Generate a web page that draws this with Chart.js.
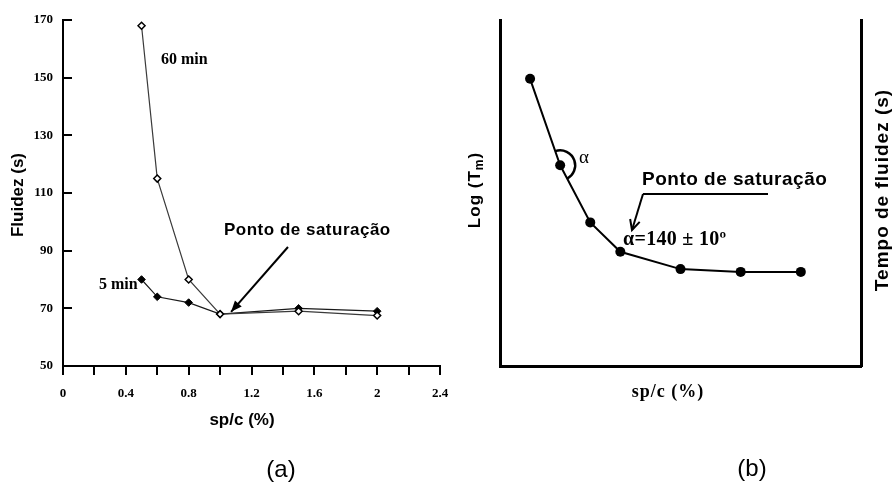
<!DOCTYPE html>
<html>
<head>
<meta charset="utf-8">
<script src="https://cdn.jsdelivr.net/npm/chart.js@4/dist/chart.umd.min.js"></script>
<style>
  html, body { margin: 0; padding: 0; background: #ffffff; }
  #wrap { position: relative; width: 895px; height: 482px; overflow: hidden; background: #ffffff; }
  #chartA { position: absolute; left: 0; top: 0; }
  #chartB { position: absolute; left: 460px; top: 0; }
</style>
</head>
<body>
<div id="wrap">
  <canvas id="chartA" width="460" height="482"></canvas>
  <canvas id="chartB" width="435" height="482"></canvas>
</div>
<script>
// ---- (a) measured flow time versus superplasticizer dosage ----
const spc = [0.5, 0.6, 0.8, 1.0, 1.5, 2.0];
const fluidez5min = [80, 74, 72, 68, 70, 69];
const fluidez60min = [168, 115, 80, 68, 69, 67.5];
const seriesNames = ['5 min', '60 min'];

// ---- (b) schematic log(T) curve used to define the saturation point ----
const spcSchematic = [1, 2, 3, 4, 6, 8, 10];
const logTm = [8.3, 5.8, 4.15, 3.3, 2.8, 2.72, 2.72];

const SERIF = '"Liberation Serif", "Times New Roman", serif';
const SANS = '"Liberation Sans", Arial, sans-serif';

Chart.defaults.font.family = SERIF;
Chart.defaults.color = '#000';

function toXY(xs, ys) { return xs.map((x, i) => ({ x: x, y: ys[i] })); }

function text(ctx, str, x, y, font, align, spacing) {
  ctx.save();
  ctx.font = font;
  ctx.fillStyle = '#000';
  ctx.textAlign = align || 'left';
  ctx.textBaseline = 'middle';
  if (spacing) ctx.letterSpacing = spacing;
  ctx.fillText(str, x, y);
  ctx.restore();
}

function vtext(ctx, str, x, y, font, spacing) {
  ctx.save();
  ctx.translate(x, y);
  ctx.rotate(-Math.PI / 2);
  ctx.font = font;
  ctx.fillStyle = '#000';
  ctx.textAlign = 'center';
  ctx.textBaseline = 'middle';
  if (spacing) ctx.letterSpacing = spacing;
  ctx.fillText(str, 0, 0);
  ctx.restore();
}

function line(ctx, x1, y1, x2, y2, w) {
  ctx.save();
  ctx.strokeStyle = '#000';
  ctx.lineWidth = w;
  ctx.beginPath();
  ctx.moveTo(x1, y1);
  ctx.lineTo(x2, y2);
  ctx.stroke();
  ctx.restore();
}

function arrowHead(ctx, x1, y1, x2, y2, len, half, filled) {
  const a = Math.atan2(y2 - y1, x2 - x1);
  const bx = x2 - len * Math.cos(a), by = y2 - len * Math.sin(a);
  const px = -Math.sin(a) * half, py = Math.cos(a) * half;
  ctx.save();
  ctx.strokeStyle = '#000';
  ctx.fillStyle = '#000';
  ctx.lineWidth = 2;
  ctx.beginPath();
  if (filled) {
    ctx.moveTo(x2, y2);
    ctx.lineTo(bx + px, by + py);
    ctx.lineTo(bx - px, by - py);
    ctx.closePath();
    ctx.fill();
  } else {
    ctx.moveTo(bx + px, by + py);
    ctx.lineTo(x2, y2);
    ctx.lineTo(bx - px, by - py);
    ctx.stroke();
  }
  ctx.restore();
}

// Inner tick marks on the y axis and the annotations of panel (a)
const panelAExtras = {
  id: 'panelAExtras',
  afterDraw(chart) {
    const ctx = chart.ctx;
    const xs = chart.scales.x, ys = chart.scales.y;
    ys.ticks.forEach(t => {
      const py = Math.round(ys.getPixelForValue(t.value));
      line(ctx, xs.left, py, xs.left + 9, py, 2);
    });

    text(ctx, seriesNames[1], 161, 60, 'bold 16px ' + SERIF);
    text(ctx, seriesNames[0], 99, 285, 'bold 16px ' + SERIF);
    text(ctx, 'Ponto de saturação', 224, 230, 'bold 17px ' + SANS, 'left', '0.5px');

    // arrow pointing at the minimum at sp/c = 1.0
    const tipX = xs.getPixelForValue(1.07), tipY = ys.getPixelForValue(68.8);
    line(ctx, 288, 247, tipX, tipY, 2);
    arrowHead(ctx, 288, 247, tipX, tipY, 11, 4.5, true);

    vtext(ctx, 'Fluidez (s)', 18, 195, 'bold 17px ' + SANS);
    text(ctx, 'sp/c (%)', 242, 420, 'bold 17px ' + SANS, 'center');
    text(ctx, '(a)', 281, 470, '24px ' + SANS, 'center');
  }
};

new Chart(document.getElementById('chartA'), {
  type: 'scatter',
  data: {
    datasets: [
      {
        label: seriesNames[1],
        data: toXY(spc, fluidez60min),
        showLine: true,
        borderColor: '#3a3a3a',
        borderWidth: 1.2,
        pointStyle: 'rectRot',
        pointRadius: 3.5,
        pointBackgroundColor: '#ffffff',
        pointBorderColor: '#000',
        pointBorderWidth: 1.5
      },
      {
        label: seriesNames[0],
        data: toXY(spc, fluidez5min),
        showLine: true,
        borderColor: '#1a1a1a',
        borderWidth: 1.2,
        pointStyle: 'rectRot',
        pointRadius: 3.8,
        pointBackgroundColor: '#000',
        pointBorderColor: '#000',
        pointBorderWidth: 1
      }
    ]
  },
  options: {
    responsive: false,
    animation: false,
    events: [],
    layout: { padding: { left: 0, top: 20, right: 20, bottom: 0 } },
    plugins: { legend: { display: false }, tooltip: { enabled: false } },
    scales: {
      x: {
        type: 'linear',
        min: 0,
        max: 2.4,
        afterFit(s) { s.height = 116; },
        ticks: {
          stepSize: 0.2,
          autoSkip: false,
          maxRotation: 0,
          padding: 11,
          color: '#000',
          font: { family: SERIF, size: 13, weight: 'bold' },
          callback: (v, i) => (i % 2 === 0 ? String(Math.round(v * 10) / 10) : '')
        },
        grid: { display: true, drawOnChartArea: false, drawTicks: true, tickLength: 9, color: '#000', lineWidth: 2 },
        border: { display: true, color: '#000', width: 2 }
      },
      y: {
        type: 'linear',
        min: 50,
        max: 170,
        afterFit(s) { s.width = 63; },
        ticks: {
          stepSize: 20,
          padding: 10,
          color: '#000',
          font: { family: SERIF, size: 13, weight: 'bold' }
        },
        grid: { display: true, drawOnChartArea: false, drawTicks: false },
        border: { display: true, color: '#000', width: 2 }
      }
    }
  },
  plugins: [panelAExtras]
});

// Angle marker, labels and arrow of panel (b)
const panelBExtras = {
  id: 'panelBExtras',
  afterDraw(chart) {
    const ctx = chart.ctx;
    const xs = chart.scales.x, ys = chart.scales.y;
    const px = i => xs.getPixelForValue(spcSchematic[i]);
    const py = i => ys.getPixelForValue(logTm[i]);

    // arc marking the angle alpha at the second point
    const cx = px(1), cy = py(1);
    const a0 = Math.atan2(py(0) - cy, px(0) - cx);
    const a1 = Math.atan2(py(2) - cy, px(2) - cx);
    ctx.save();
    ctx.strokeStyle = '#000';
    ctx.lineWidth = 2.5;
    ctx.beginPath();
    ctx.arc(cx, cy, 15, a0, a1, false);
    ctx.stroke();
    ctx.restore();
    text(ctx, 'α', 124, 158, '19px ' + SERIF, 'center');

    text(ctx, 'Ponto de saturação', 182, 180, 'bold 19px ' + SANS, 'left', '0.5px');
    line(ctx, 183, 194, 308, 194, 2);
    line(ctx, 183, 194, 172, 230, 2);
    arrowHead(ctx, 183, 194, 172, 230, 10, 5, false);
    text(ctx, 'α=140 ± 10º', 163, 240, 'bold 20px ' + SERIF, 'left', '0.3px');

    // left title with subscript
    ctx.save();
    ctx.translate(15, 190);
    ctx.rotate(-Math.PI / 2);
    ctx.fillStyle = '#000';
    ctx.textBaseline = 'middle';
    ctx.letterSpacing = '1px';
    const f1 = 'bold 17px ' + SANS, f2 = 'bold 12px ' + SANS;
    ctx.font = f1;
    const wA = ctx.measureText('Log (T').width, wC = ctx.measureText(')').width;
    ctx.font = f2;
    const wB = ctx.measureText('m').width;
    let x0 = -(wA + wB + wC) / 2;
    ctx.font = f1; ctx.fillText('Log (T', x0, 0);
    ctx.font = f2; ctx.fillText('m', x0 + wA, 5);
    ctx.font = f1; ctx.fillText(')', x0 + wA + wB, 0);
    ctx.restore();

    vtext(ctx, 'Tempo de fluidez (s)', 423, 190, 'bold 19px ' + SANS, '1px');
    text(ctx, 'sp/c (%)', 208, 392, 'bold 18px ' + SERIF, 'center', '1px');
    text(ctx, '(b)', 292, 469, '24px ' + SANS, 'center');
  }
};

const hiddenAxis = {
  ticks: { display: false },
  grid: { display: true, drawOnChartArea: false, drawTicks: false },
  border: { display: true, color: '#000', width: 3 }
};

new Chart(document.getElementById('chartB'), {
  type: 'scatter',
  data: {
    datasets: [{
      label: 'Log (Tm)',
      data: toXY(spcSchematic, logTm),
      showLine: true,
      borderColor: '#000',
      borderWidth: 2,
      pointRadius: 5,
      pointBackgroundColor: '#000',
      pointBorderColor: '#000',
      pointBorderWidth: 0
    }]
  },
  options: {
    responsive: false,
    animation: false,
    events: [],
    layout: { padding: { left: 0, top: 20, right: 0, bottom: 0 } },
    plugins: { legend: { display: false }, tooltip: { enabled: false } },
    scales: {
      x: Object.assign({ type: 'linear', min: 0, max: 12, afterFit(s) { s.height = 116; } }, hiddenAxis),
      y: Object.assign({ type: 'linear', position: 'left', min: 0, max: 10, afterFit(s) { s.width = 40; } }, hiddenAxis),
      y2: Object.assign({ type: 'linear', position: 'right', min: 0, max: 10, afterFit(s) { s.width = 34; } }, hiddenAxis)
    }
  },
  plugins: [panelBExtras]
});
</script>
</body>
</html>
